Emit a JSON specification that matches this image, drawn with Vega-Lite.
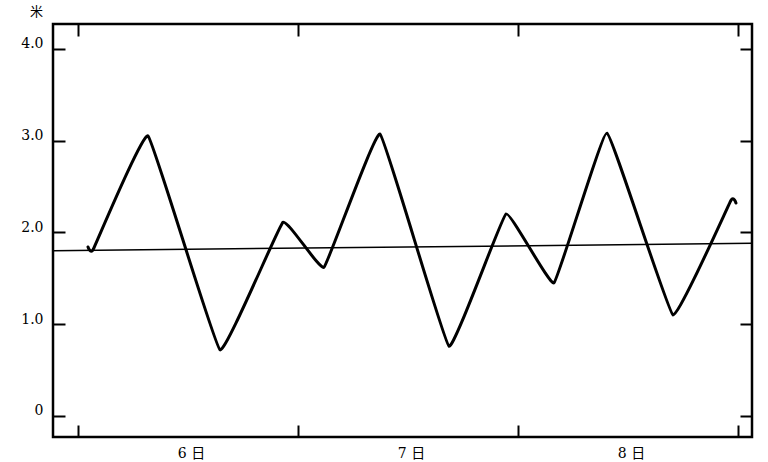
{
  "$schema": "https://vega.github.io/schema/vega-lite/v6.json",
  "autosize": {"type": "none"},
  "width": 699,
  "height": 413,
  "padding": {"left": 53, "top": 24, "right": 16, "bottom": 25},
  "background": "white",
  "config": {
    "view": {"stroke": "black", "strokeWidth": 2.5},
    "axis": {"grid": false, "domain": false, "tickColor": "black", "tickWidth": 2, "labelColor": "black", "labelFont": "DejaVu Serif, Noto Sans CJK SC", "labelFontSize": 14}
  },
  "datasets": {
    "tide": [
      {"hour": 1.09, "level": 1.84},
      {"hour": 1.64, "level": 1.81},
      {"hour": 7.64, "level": 3.05},
      {"hour": 15.49, "level": 0.72},
      {"hour": 22.36, "level": 2.11},
      {"hour": 26.84, "level": 1.62},
      {"hour": 32.95, "level": 3.07},
      {"hour": 40.47, "level": 0.76},
      {"hour": 46.69, "level": 2.2},
      {"hour": 51.93, "level": 1.45},
      {"hour": 57.71, "level": 3.08},
      {"hour": 64.91, "level": 1.1},
      {"hour": 71.24, "level": 2.35},
      {"hour": 71.78, "level": 2.32}
    ],
    "mean": [
      {"hour": -2.73, "level": 1.8},
      {"hour": 73.53, "level": 1.88}
    ]
  },
  "layer": [
    {
      "data": {"name": "tide"},
      "mark": {"type": "line", "color": "black", "strokeWidth": 3, "interpolate": "cardinal", "tension": 0.75, "strokeJoin": "round", "strokeCap": "round", "clip": true},
      "encoding": {
        "x": {"field": "hour", "type": "quantitative", "scale": {"domain": [-2.73, 73.53], "nice": false, "zero": false},
          "axis": {"orient": "bottom", "title": null, "values": [0, 24, 48, 72], "tickSize": -12, "labelOffset": 113, "labelPadding": 21, "labelFontSize": 14, "labelBound": false, "labelFlush": false, "labelOverlap": false,
            "labelExpr": "datum.value == 0 ? '6 日' : datum.value == 24 ? '7 日' : datum.value == 48 ? '8 日' : ''"}},
        "y": {"field": "level", "type": "quantitative", "scale": {"domain": [-0.23, 4.27], "nice": false, "zero": false},
          "axis": {"orient": "left", "values": [0, 1, 2, 3, 4], "tickSize": -12, "labelPadding": 22, "labelOffset": -5,
            "labelExpr": "datum.value == 0 ? '0' : format(datum.value, '.1f')",
            "title": "米", "titleAngle": 0, "titleX": -17, "titleY": -13, "titleAlign": "center", "titleBaseline": "middle", "titleFont": "Noto Sans CJK SC", "titleFontSize": 13, "titleFontWeight": "normal", "titleColor": "black"}}
      }
    },
    {
      "data": {"name": "mean"},
      "mark": {"type": "line", "color": "black", "strokeWidth": 1.5},
      "encoding": {
        "x": {"field": "hour", "type": "quantitative", "scale": {"domain": [-2.73, 73.53], "nice": false, "zero": false},
          "axis": {"orient": "top", "title": null, "values": [0, 24, 48, 72], "tickSize": -12, "labels": false}},
        "y": {"field": "level", "type": "quantitative", "scale": {"domain": [-0.23, 4.27], "nice": false, "zero": false},
          "axis": {"orient": "right", "title": null, "values": [0, 1, 2, 3, 4], "tickSize": -12, "labels": false}}
      }
    }
  ],
  "resolve": {"axis": {"x": "independent", "y": "independent"}}
}
